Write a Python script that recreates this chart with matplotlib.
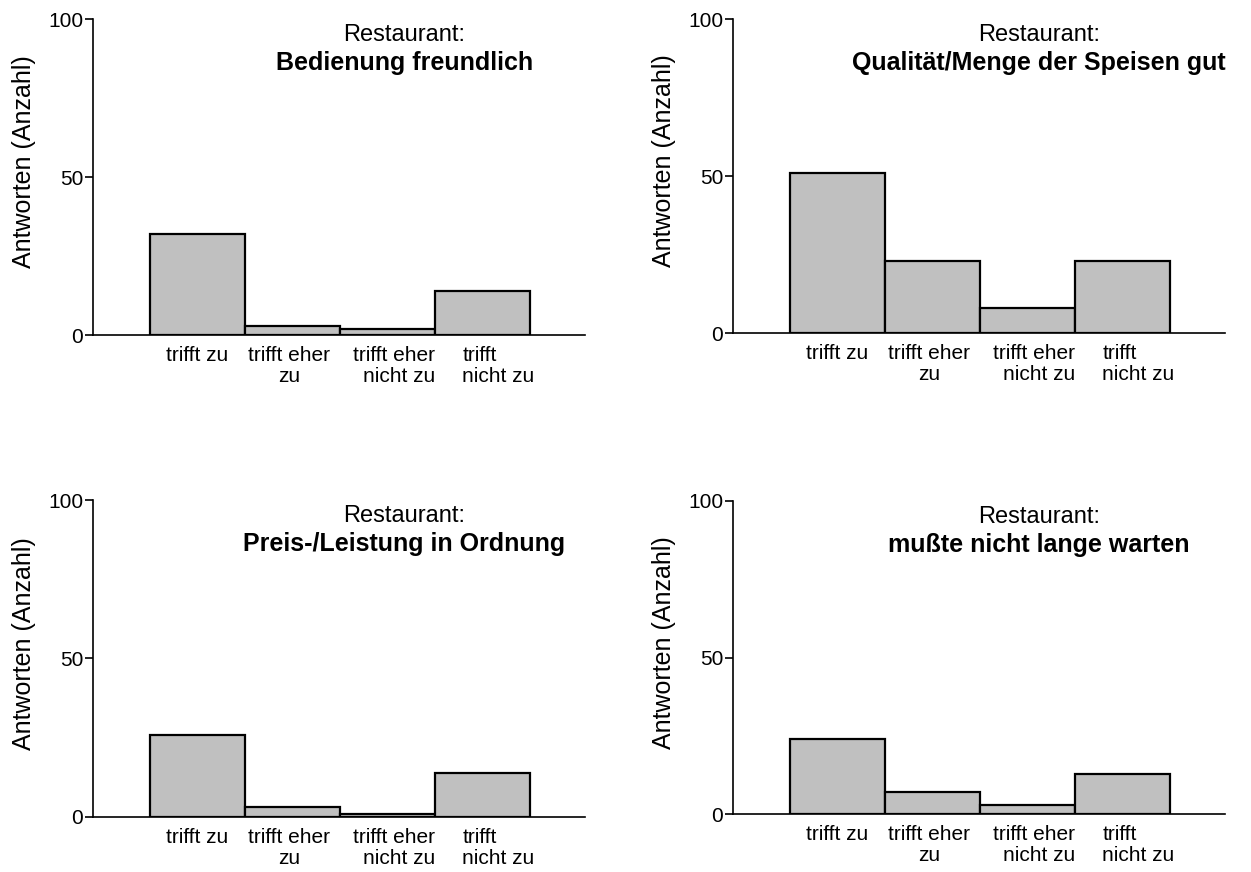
import matplotlib
matplotlib.use("Agg")
import matplotlib.pyplot as plt
import matplotlib.transforms as mtransforms

plt.rcParams['font.family'] = ['Liberation Sans', 'DejaVu Sans']

# categories and answer counts per question
categories = ["trifft zu", "trifft eher\nzu", "trifft eher\nnicht zu", "trifft\nnicht zu"]
titles = ["Bedienung freundlich", "Qualität/Menge der Speisen gut",
          "Preis-/Leistung in Ordnung", "mußte nicht lange warten"]
bedienung = [32, 3, 2, 14]
qualitaet = [51, 23, 8, 23]
preis = [26, 3, 1, 14]
warten = [24, 7, 3, 13]
yticks = [0, 50, 100]

series = [bedienung, qualitaet, preis, warten]

fig = plt.figure(figsize=(12.51, 8.72), dpi=100)
# axes boxes (left, bottom, width, height) in figure fractions
boxes = [(0.0743, 0.6158, 0.3933, 0.3624),
         (0.5859, 0.6181, 0.3933, 0.3601),
         (0.0743, 0.0631, 0.3933, 0.3635),
         (0.5859, 0.0662, 0.3933, 0.3593)]
title_x = [2.18, 2.12, 2.18, 2.12]

# per-label alignment (ha, multialignment, x offset in pixels)
label_align = [("center", "center", 0), ("center", "center", -3),
               ("right", "right", 48), ("left", "left", -20)]

for box, tx, title, vals in zip(boxes, title_x, titles, series):
    ax = fig.add_axes(box)
    x = range(len(vals))
    ax.bar(x, vals, width=1.0, color="#c0c0c0", edgecolor="black", linewidth=1.6)
    ax.set_xlim(-1.1, 4.08)
    ax.set_ylim(0, 100)
    ax.set_yticks(yticks)
    ax.tick_params(axis="y", labelsize=15, length=6, width=1.2, pad=1)
    ax.set_xticks(list(x))
    ax.set_xticklabels(categories, fontsize=15, linespacing=1.1)
    ax.tick_params(axis="x", length=0, pad=8)
    for lab, (ha, ma, dx) in zip(ax.get_xticklabels(), label_align):
        lab.set_horizontalalignment(ha)
        lab.set_multialignment(ma)
        lab.set_transform(lab.get_transform() +
                          mtransforms.ScaledTranslation(dx / 100, 0, fig.dpi_scale_trans))
    for s in ("top", "right"):
        ax.spines[s].set_visible(False)
    for s in ("left", "bottom"):
        ax.spines[s].set_linewidth(1.2)
    ax.set_ylabel("Antworten (Anzahl)", fontsize=18)
    ax.yaxis.set_label_coords(-0.115, 0.548)
    ax.text(tx, 95, "Restaurant:", ha="center", va="center", fontsize=17)
    ax.text(tx, 86, title, ha="center", va="center", fontsize=18, fontweight="bold")

fig.savefig("out.png", dpi=100)
